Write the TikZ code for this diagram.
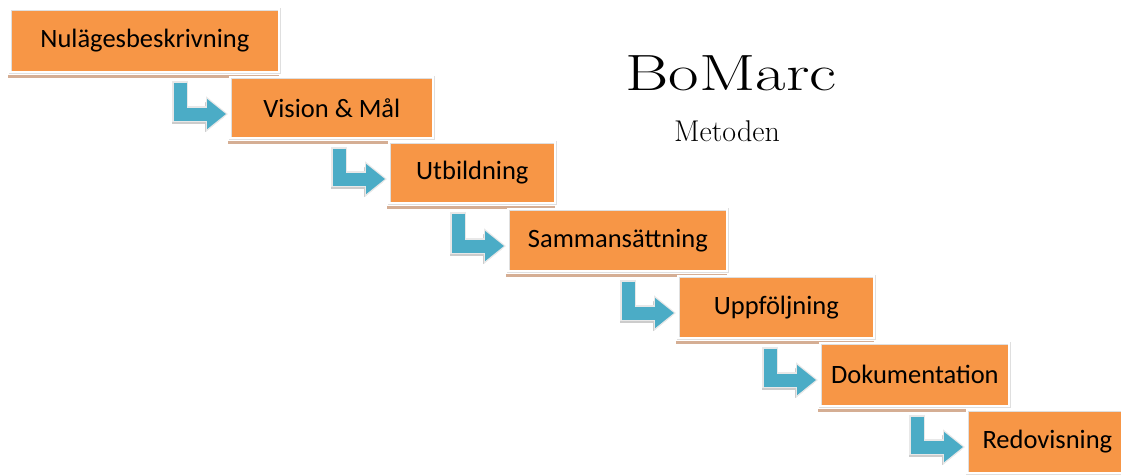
\documentclass[tikz,border=0pt]{standalone}
\usepackage{fontspec}
\newfontfamily\calibri{Carlito}
\usetikzlibrary{arrows.meta,calc}
\definecolor{boxorange}{HTML}{F79646}
\definecolor{arrowblue}{HTML}{4BACC6}
\definecolor{shadowtan}{HTML}{D5AE94}
\tikzset{
  stepbox/.style={fill=boxorange, draw=gray!25, double=white, double distance=1.8pt,
    line width=0.7pt, anchor=north west, inner sep=0pt,
    font=\calibri\fontsize{26.5}{30}\selectfont, text=black},
  flowline/.style={line width=13pt, draw=arrowblue, line join=miter,
    -{Triangle[length=19pt,width=29pt]}},
  flowedge/.style={line width=16pt, draw=gray!18, line join=miter,
    -{Triangle[length=22pt,width=34pt]}},
  flowshadow/.style={line width=13pt, draw=gray!40, line join=miter,
    -{Triangle[length=19pt,width=29pt]}},
}
\begin{document}
\begin{tikzpicture}[x=1pt,y=-1pt]
\useasboundingbox (0,0) rectangle (1121,475);
% boxes with shadows
\newcommand{\stepnode}[6]{%
  \fill[shadowtan] (#2-2,#3+#5+3) rectangle (#2+#4,#3+#5+6);
  \node[stepbox, minimum width=#4pt, minimum height=#5pt] (#1) at (#2,#3) {#6};
}
\stepnode{s1}{10}{9}{269}{63}{Nulägesbeskrivning}
\stepnode{s2}{230}{77}{203}{61}{Vision \& Mål}
\stepnode{s3}{389}{142}{166}{61}{Utbildning}
\stepnode{s4}{508}{209}{219}{62}{Sammansättning}
\stepnode{s5}{678}{276}{196}{62}{Uppföljning}
\stepnode{s6}{820}{343}{189}{63}{Dokumentation}
\stepnode{s7}{967}{410}{160}{63}{Redovisning}
% arrows
\newcommand{\flowarrow}[2]{%
  \coordinate (c#2) at ($(#2.north west)+(-50,0)$);
  \coordinate (t#2) at ($(#2.north west)+(-4,37)$);
  \draw[flowshadow] ([shift={(-2,13)}]#1.south -| c#2) |- ([shift={(-2,3)}]t#2);
  \draw[flowedge] ([yshift=-8]#1.south -| c#2) |- ([xshift=2]t#2);
  \draw[flowline] ([yshift=-10]#1.south -| c#2) |- (t#2);
}
\flowarrow{s1}{s2}
\flowarrow{s2}{s3}
\flowarrow{s3}{s4}
\flowarrow{s4}{s5}
\flowarrow{s5}{s6}
\flowarrow{s6}{s7}
% title
\node[anchor=base, inner sep=0pt] (title) at (731,90) {\scalebox{1.3}[1]{\fontsize{51}{60}\selectfont BoMarc}};
\node[anchor=base, inner sep=0pt] (subtitle) at (727,141) {\fontsize{30}{34}\selectfont Metoden};
\end{tikzpicture}
\end{document}
